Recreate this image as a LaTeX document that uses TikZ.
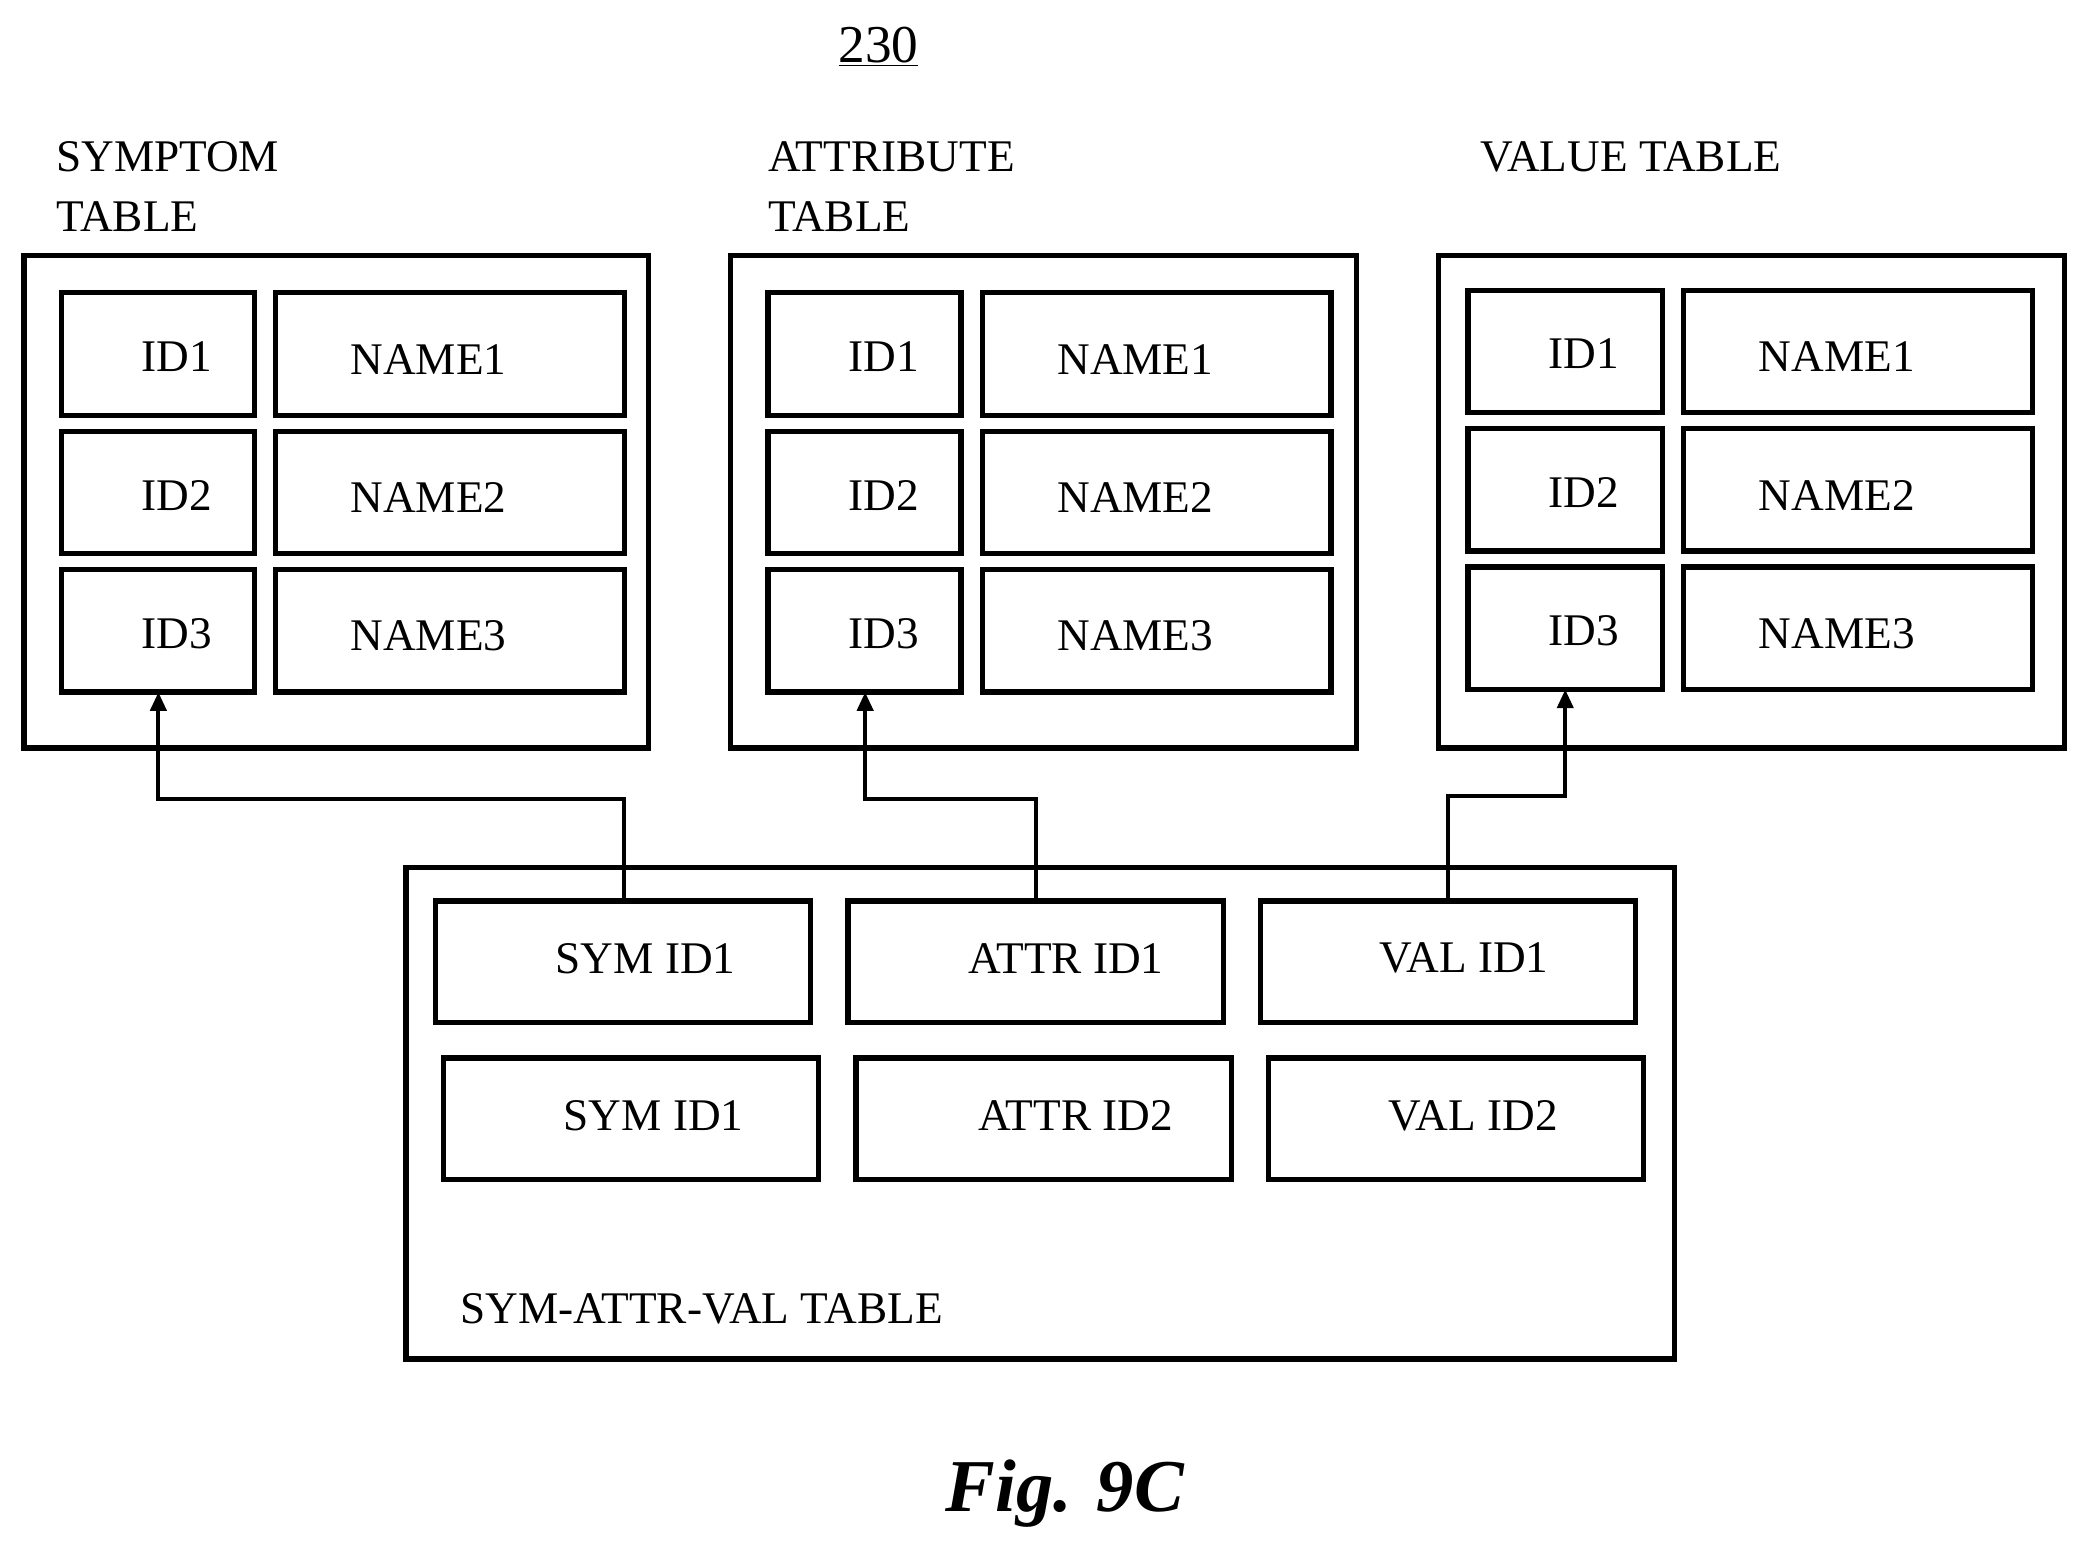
\documentclass[tikz,border=0pt]{standalone}
\usepackage{fontspec}
\setmainfont{Liberation Serif}
\usetikzlibrary{arrows.meta}
\begin{document}
\begin{tikzpicture}[x=1pt,y=-1pt,
  box/.style={draw,line width=4pt,inner sep=0pt,outer sep=0pt},
  txt/.style={font=\fontsize{34}{38}\selectfont,inner sep=0pt},
  lbl/.style={font=\fontsize{34}{46}\selectfont,inner sep=0pt,anchor=west},
  conn/.style={line width=3pt,-{Triangle[length=14pt,width=12pt]}}]
\useasboundingbox (0,0) rectangle (1568,1167.5);
\newcommand\mybox[5]{\node[box,anchor=north west,minimum width=#4-#2,minimum height=#5-#3] (#1) at (#2,#3) {};}
\newcommand\mytext[4]{\node[txt] (#1) at (#2,#3) {#4};}
% title
\node[font=\fontsize{40}{44}\selectfont,inner sep=0pt] (num) at (660,35) {\underline{230}};
% labels
\node[lbl] (l1) at (42,118) {SYMPTOM};
\node[lbl] (l1b) at (42,163) {TABLE};
\node[lbl] (l2) at (577,118) {ATTRIBUTE};
\node[lbl] (l2b) at (577,163) {TABLE};
\node[lbl] (l3) at (1112,118) {VALUE TABLE};
% outer tables
\mybox{S}{18}{192}{487}{562}
\mybox{A}{549}{192}{1019}{562}
\mybox{V}{1081}{192}{1551}{562}
\mybox{B}{305}{652}{1258}{1021}
% symptom cells
\mybox{s1}{46}{220}{191}{312}\mybox{s1n}{207}{220}{469}{312}
\mybox{s2}{46}{324}{191}{416}\mybox{s2n}{207}{324}{469}{416}
\mybox{s3}{46}{428}{191}{520}\mybox{s3n}{207}{428}{469}{520}
\mytext{ts1}{133}{268}{ID1}\mytext{ts1n}{322}{270}{NAME1}
\mytext{ts2}{133}{372}{ID2}\mytext{ts2n}{322}{374}{NAME2}
\mytext{ts3}{133}{476}{ID3}\mytext{ts3n}{322}{478}{NAME3}
% attribute cells
\mybox{a1}{577}{220}{722}{312}\mybox{a1n}{738}{220}{1000}{312}
\mybox{a2}{577}{324}{722}{416}\mybox{a2n}{738}{324}{1000}{416}
\mybox{a3}{577}{428}{722}{520}\mybox{a3n}{738}{428}{1000}{520}
\mytext{ta1}{664}{268}{ID1}\mytext{ta1n}{853}{270}{NAME1}
\mytext{ta2}{664}{372}{ID2}\mytext{ta2n}{853}{374}{NAME2}
\mytext{ta3}{664}{476}{ID3}\mytext{ta3n}{853}{478}{NAME3}
% value cells
\mybox{v1}{1103}{218}{1249}{310}\mybox{v1n}{1265}{218}{1527}{310}
\mybox{v2}{1103}{322}{1249}{414}\mybox{v2n}{1265}{322}{1527}{414}
\mybox{v3}{1103}{426}{1249}{518}\mybox{v3n}{1265}{426}{1527}{518}
\mytext{tv1}{1190}{266}{ID1}\mytext{tv1n}{1380}{268}{NAME1}
\mytext{tv2}{1190}{370}{ID2}\mytext{tv2n}{1380}{372}{NAME2}
\mytext{tv3}{1190}{474}{ID3}\mytext{tv3n}{1380}{476}{NAME3}
% bottom cells
\mybox{b1}{327}{677}{609}{768}\mybox{b2}{637}{677}{919}{768}\mybox{b3}{947}{677}{1229}{768}
\mybox{b4}{333}{795}{615}{886}\mybox{b5}{643}{795}{925}{886}\mybox{b6}{953}{795}{1235}{886}
\mytext{tb1}{485}{720}{SYM ID1}\mytext{tb2}{801}{720}{ATTR ID1}\mytext{tb3}{1100}{720}{VAL ID1}
\mytext{tb4}{491}{838}{SYM ID1}\mytext{tb5}{808}{838}{ATTR ID2}\mytext{tb6}{1107}{838}{VAL ID2}
\node[lbl] (lb) at (346,983) {SYM-ATTR-VAL TABLE};
% connectors
\coordinate (c1) at (469,677); \coordinate (c2) at (778,677); \coordinate (c3) at (1088,677);
\draw[conn] (c1) |- (119,600) -- (119,520);
\draw[conn] (c2) |- (650,600) -- (650,520);
\draw[conn] (c3) |- (1176,598) -- (1176,518);
% fig
\node[font=\fontsize{56}{60}\selectfont\bfseries\itshape,inner sep=0pt] (fig) at (800,1122) {Fig. 9C};
\end{tikzpicture}
\end{document}
